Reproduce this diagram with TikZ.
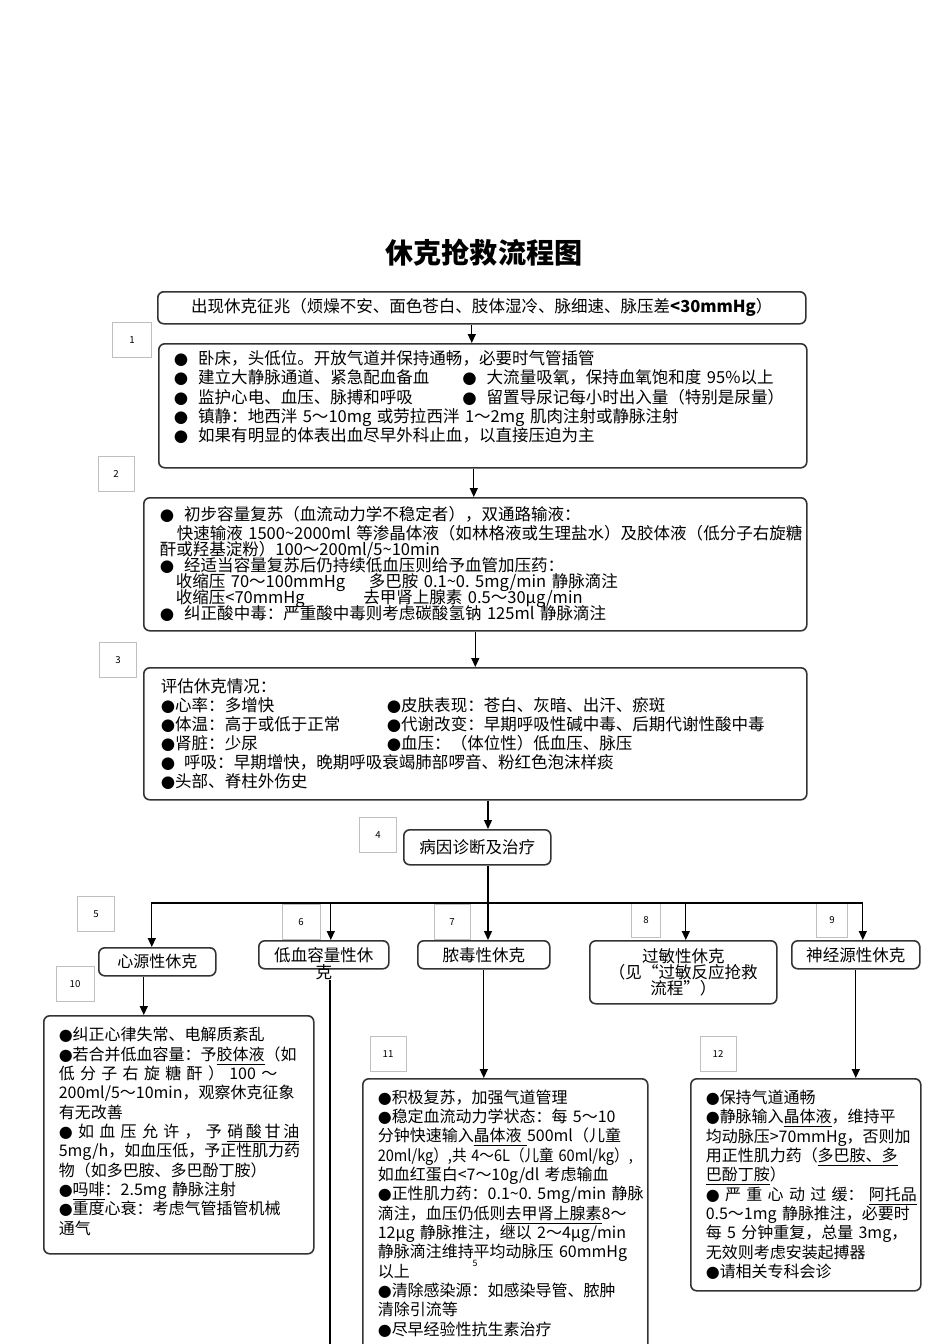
\documentclass[tikz,border=0pt]{standalone}
\usepackage{fontspec}
\setmainfont{Noto Sans CJK SC}
\newfontfamily\dejavu{DejaVu Sans}
\usetikzlibrary{arrows.meta}
\newcommand{\bul}{{\dejavu ●}}
\newcommand{\bulsp}{{\dejavu ●}\hspace{2mm}}
\newcommand{\tightlines}{\lineskiplimit=-10pt\lineskip=0pt\relax}

\begin{document}
\begin{tikzpicture}[x=0.2mm,y=-0.2mm,
	stepbox/.style={draw=black!80,line width=0.9pt,rounded corners=1.2mm,anchor=north west,align=left,inner ysep=0pt,font=\fontsize{9.4}{11}\selectfont},
	typebox/.style={draw=black!80,line width=0.9pt,rounded corners=1.2mm,anchor=north west,align=center,inner sep=0pt,minimum height=5.6mm,font=\fontsize{9.4}{9.1}\selectfont\tightlines},
	numbox/.style={draw=black!25,line width=0.4pt,minimum height=7mm,inner sep=0pt,font=\fontsize{5.5}{6}\selectfont},
	arrow/.style={-{Triangle[length=1.8mm,width=1.6mm]},line width=0.75pt}]
	\useasboundingbox (0,0) rectangle (950,1344);
	% title
	\node (title) at (484,253) {\fontsize{16}{18}\selectfont\bfseries 休克抢救流程图};
	% main column
	\node[stepbox,align=center,inner xsep=1mm,text width=127.6mm,minimum height=6.4mm] (signs) at (157,291)
		{出现休克征兆（烦燥不安、面色苍白、肢体湿冷、脉细速、脉压差\textbf{<30mmHg}）};
	\node[stepbox,inner xsep=3mm,text width=123.6mm,minimum height=24.8mm] (firstaid) at (158,343)
		{\bulsp 卧床，头低位。开放气道并保持通畅，必要时气管插管\\
		\makebox[57.7mm][l]{\bulsp 建立大静脉通道、紧急配血备血}\bulsp 大流量吸氧，保持血氧饱和度~95\%以上\\
		\makebox[57.7mm][l]{\bulsp 监护心电、血压、脉搏和呼吸}\bulsp 留置导尿记每小时出入量（特别是尿量）\\
		\bulsp 镇静：地西泮~5～10mg~或劳拉西泮~1～2mg~肌肉注射或静脉注射\\
		\bulsp 如果有明显的体表出血尽早外科止血，以直接压迫为主\\
		\mbox{}};
	\node[stepbox,inner xsep=3.2mm,text width=126.2mm,minimum height=26.6mm,font=\fontsize{9.4}{9.1}\selectfont\tightlines] (fluid) at (143,497)
		{\bulsp 初步容量复苏（血流动力学不稳定者），双通路输液：\\[0.6mm]
		\hspace*{3.4mm}快速输液~1500\textasciitilde 2000ml~等渗晶体液（如林格液或生理盐水）及胶体液（低分子右旋糖\\
		酐或羟基淀粉）100～200ml/5\textasciitilde 10min\\
		\bulsp 经适当容量复苏后仍持续低血压则给予血管加压药：\\
		\hspace*{3.2mm}\makebox[38.6mm][l]{收缩压~70～100mmHg}多巴胺~0.1\textasciitilde 0.~5mg/min~静脉滴注\\
		\hspace*{3.2mm}\makebox[37.5mm][l]{收缩压<70mmHg}去甲肾上腺素~0.5～30μg/min\\
		\bulsp 纠正酸中毒：严重酸中毒则考虑碳酸氢钠~125ml~静脉滴注};
	\node[stepbox,inner xsep=3.4mm,text width=125.8mm,minimum height=26.4mm,font=\fontsize{9.4}{10.8}\selectfont\tightlines] (assess) at (143,667)
		{评估休克情况：\\
		\makebox[45.2mm][l]{\bul 心率：多增快}\bul 皮肤表现：苍白、灰暗、出汗、瘀斑\\
		\makebox[45.2mm][l]{\bul 体温：高于或低于正常}\bul 代谢改变：早期呼吸性碱中毒、后期代谢性酸中毒\\
		\makebox[45.2mm][l]{\bul 肾脏：少尿}\bul 血压：（体位性）低血压、脉压\\
		\bul\hspace{1.8mm}呼吸：早期增快，晚期呼吸衰竭肺部啰音、粉红色泡沫样痰\\
		\bul 头部、脊柱外伤史};
	\node[typebox,minimum width=29.4mm,minimum height=7mm] (diag) at (403,829) {病因诊断及治疗};
	% shock types
	\node[typebox,minimum width=23.4mm,font=\fontsize{9.1}{9.1}\selectfont] (cardio) at (98,947) {心源性休克};
	\node[typebox,minimum width=26mm] (hypo) at (258,940) {低血容量性休};
	\node[inner sep=0pt,font=\fontsize{9.4}{9.1}\selectfont] (ke) at (324,972) {克};
	\node[typebox,minimum width=26.4mm] (sepsis) at (417,940) {脓毒性休克};
	\node[typebox,minimum width=37.4mm,minimum height=12.6mm] (allergy) at (589,940) {过敏性休克\\（见“过敏反应抢救\\流程”）};
	\node[typebox,minimum width=25.6mm] (neuro) at (791,940) {神经源性休克};
	% treatments
	\node[stepbox,inner xsep=3mm,text width=48mm,minimum height=47.6mm,font=\fontsize{9.1}{11}\selectfont\tightlines] (cardiotx) at (43,1015)
		{\bul 纠正心律失常、电解质紊乱\\
		\bul 若合并低血容量：予\underline{胶体液}（如\\
		\makebox[48mm][s]{低 分 子 右 旋 糖 酐 ） 100 ～}\\
		200ml/5～10min，观察休克征象\\
		有无改善\\
		\makebox[48mm][s]{\bul\ 如 血 压 允 许 ， 予 \underline{硝\,酸\,甘\,油}}\\
		5mg/h，如血压低，予正性肌力药\\
		物（如多巴胺、多巴酚丁胺）\\
		\bul\underline{吗啡}：2.5mg~静脉注射\\
		\bul 重度心衰：考虑气管插管机械\\
		通气\\[-6.5pt]\mbox{}};
	\node[stepbox,inner xsep=3mm,inner ysep=2.2mm,text width=51mm,font=\fontsize{9.1}{11}\selectfont\tightlines] (septictx) at (362,1078)
		{\bul 积极复苏，加强气道管理\\
		\makebox[51mm][s]{\bul 稳定血流动力学状态：每 5～10}\\
		分钟快速输入\underline{晶体液~}500ml（儿童\\
		\resizebox{51mm}{\height}{20ml/kg）,共~4～6L（儿童~60ml/kg）,}\\
		如血红蛋白<7～10g/dl~考虑输血\\
		\bul 正性肌力药：0.1\textasciitilde 0.~5mg/min~静脉\\
		滴注，血压仍低则\underline{去甲肾上腺素}8～\\
		\makebox[51mm][s]{12μg 静脉推注，继以 2～4μg/min}\\
		\makebox[51mm][s]{静脉滴注维持平均动脉压 60mmHg}\\
		以上\\
		\bul 清除感染源：如感染导管、脓肿\\
		清除引流等\\
		\bul 尽早经验性抗生素治疗\\
		\mbox{}\\
		\mbox{}};
	\node[font=\fontsize{5}{5}\selectfont,inner sep=0pt] (pagemark) at (475,1263) {5};
	\node[stepbox,inner xsep=3mm,text width=40mm,minimum height=42.4mm,font=\fontsize{9.1}{11}\selectfont\tightlines] (neurotx) at (690,1078)
		{\bul 保持气道通畅\\
		\bul 静脉输入\underline{晶体液}，维持平\\
		均动脉压>70mmHg，否则加\\
		用正性肌力药（\underline{多巴胺、多}\\
		\underline{巴酚丁胺}）\\
		\makebox[40mm][s]{\bul\ 严 重 心 动 过 缓： \underline{阿托品}}\\
		0.5～1mg~静脉推注，必要时\\
		每~5~分钟重复，总量~3mg，\\
		无效则考虑安装起搏器\\
		\bul 请相关专科会诊};
	% step numbers
	\foreach \n/\x/\y/\w in {1/132/340/7.8, 2/116/474/7.2, 3/118/660/7.4, 4/378/835/7.4, 5/96/914/7.4, 6/301/922/7.6,
		7/452/922/7.2, 8/646/920/5.8, 9/832/920/6.2, 10/75/984/7.6, 11/388/1054/7.2, 12/718/1054/7.2}
		\node[numbox,minimum width=\w mm] (num\n) at (\x,\y) {\n};
	% connectors
	\coordinate (trunk) at (488,903);
	\coordinate (hypoend) at (330,1400);
	\draw[arrow] ([xshift=-2mm]signs.south) -- ([xshift=-2mm]signs.south |- firstaid.north);
	\draw[arrow] ([xshift=-1.8mm]firstaid.south) -- ([xshift=-1.8mm]firstaid.south |- fluid.north);
	\draw[arrow] (fluid.south) -- (fluid.south |- assess.north);
	\draw[arrow] (assess.south -| trunk) -- (diag.north -| trunk);
	\draw[arrow] (diag.south -| trunk) -- (sepsis.north -| trunk);
	\foreach \b/\dx in {cardio/-1.1, hypo/1.4, allergy/0.5, neuro/1.4}
		\draw[arrow] (trunk) -| ([xshift=\dx mm]\b.north);
	\draw[arrow] ([xshift=-2.7mm]cardio.south) -- ([xshift=-2.7mm]cardio.south |- cardiotx.north);
	\draw[line width=0.75pt] (ke.south -| hypoend) -- (hypoend);
	\draw[arrow] (sepsis.south) -- (sepsis.south |- septictx.north);
	\draw[arrow] (neuro.south) -- (neuro.south |- neurotx.north);
\end{tikzpicture}
\end{document}
